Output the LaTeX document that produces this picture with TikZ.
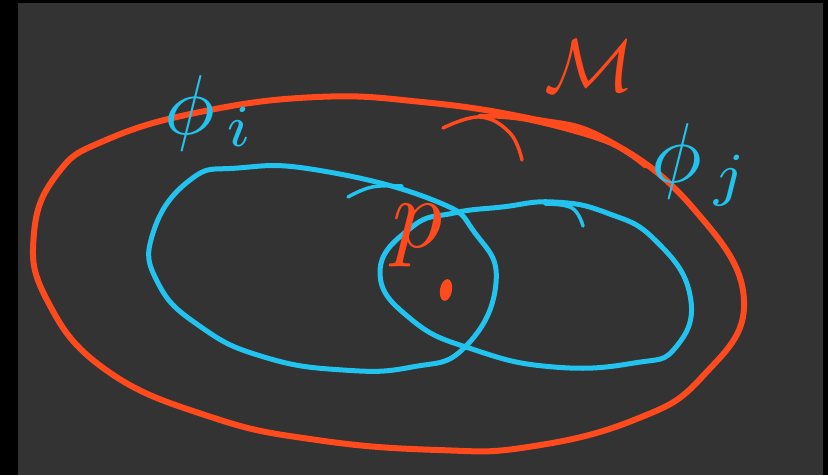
\documentclass[tikz,border=0pt]{standalone}
\usepackage{amsmath}
\definecolor{bgray}{HTML}{333333}
\definecolor{pred}{HTML}{FF4A1E}
\definecolor{pblue}{HTML}{22C3EE}
\tikzset{
  redline/.style={draw=pred, line width=6pt, line cap=round, line join=round},
  blueline/.style={draw=pblue, line width=5pt, line cap=round, line join=round},
  hook/.style={line width=3.5pt, line cap=round},
  bluelab/.style={text=pblue, inner sep=0pt, scale=8.5},
  redlab/.style={text=pred, inner sep=0pt},
}
\begin{document}
\begin{tikzpicture}[x=1pt,y=-1pt]
\useasboundingbox (0,0) rectangle (828,475);
\fill[black] (0,0) rectangle (828,475);
\fill[bgray] (18,3) rectangle (823,475);
% manifold M
\draw[redline] plot[smooth cycle, tension=0.75] coordinates {
 (317,97) (422,102) (528,118) (607,140) (693,208) (744,300)
 (702,377) (634,420) (528,447) (438,450) (317,440) (211,417)
 (106,370) (47,300) (34,233) (58,173) (106,140) (200,112)};
\draw[redline, line width=4.5pt] plot[smooth, tension=0.6] coordinates {(480,116) (528,120) (607,142) (645,166)};
\draw[draw=pred, hook] plot[smooth, tension=0.7] coordinates {(443,128) (480,117) (510,133) (522,160)};
% chart domains
\draw[blueline] plot[smooth cycle, tension=0.8] coordinates {
 (238,168) (317,170) (433,200) (475,233) (496,283) (465,347)
 (412,367) (343,370) (264,357) (201,327) (158,283) (153,233) (190,180)};
\draw[draw=pblue, hook] plot[smooth, tension=0.7] coordinates {(348,197) (372,187) (402,186)};
\draw[blueline] plot[smooth cycle, tension=0.8] coordinates {
 (502,207) (554,202) (607,213) (655,240) (690,295) (676,347) (634,363)
 (554,367) (475,350) (412,320) (380,272) (412,227) (454,213)};
\draw[draw=pblue, hook] plot[smooth, tension=0.7] coordinates {(545,204) (572,208) (583,226)};
% labels
\node[bluelab, anchor=base west] (phii) at (163,134) {$\phi_{\,i}$};
\node[bluelab, anchor=base west] (phij) at (650,182) {$\phi_{\,j}$};
\node[redlab, scale=7.5] (M) at (590,66) {$\mathcal{M}$};
\node[redlab, scale=10, anchor=base west] (p) at (390,247) {$p$};
\fill[pred, rotate around={-10:(446,290)}] (446,290) ellipse [x radius=6, y radius=11];
\end{tikzpicture}
\end{document}
